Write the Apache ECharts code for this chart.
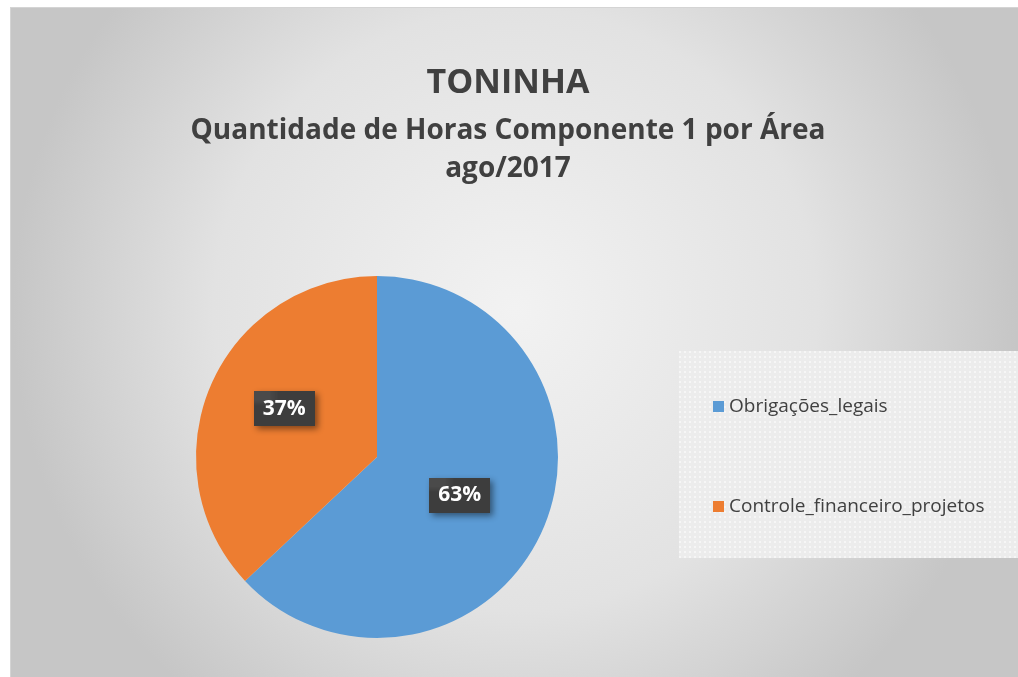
<!DOCTYPE html>
<html>
<head>
<meta charset="utf-8">
<script src="https://cdn.jsdelivr.net/npm/echarts@6/dist/echarts.min.js"></script>
<style>
  html, body { margin: 0; padding: 0; background: #fff; }
  #chart {
    position: absolute; left: 10px; top: 7px; width: 1008px; height: 670px;
    border-top: 1px solid #d4d4d4; border-left: 1px solid #d4d4d4;
  }
</style>
</head>
<body>
<div id="chart"></div>
<script>
const areas = ['Obrigações_legais', 'Controle_financeiro_projetos']
const horas = [63, 37]
const colors = ['#5B9BD5', '#ED7D31']
const titulo = 'TONINHA'
const subtitulo = ['Quantidade de Horas Componente 1 por Área', 'ago/2017']

// small dotted pattern for the legend box / labels
const makePattern = (bg, dot, size) => {
    const c = document.createElement('canvas')
    c.width = size
    c.height = size
    const g = c.getContext('2d')
    g.fillStyle = bg
    g.fillRect(0, 0, size, size)
    g.fillStyle = dot
    g.fillRect(0, 0, 2, 2)
    return c
}

const titleFont = { fontFamily: 'Open Sans', fontWeight: 'bold', fill: '#404040', textAlign: 'center', textVerticalAlign: 'middle' }

const chart = echarts.init(document.getElementById('chart'))
chart.setOption({
    backgroundColor: {
        type: 'radial', x: 0.5, y: 0.45, r: 0.75,
        colorStops: [
            { offset: 0, color: '#f2f2f2' },
            { offset: 0.6, color: '#e2e2e2' },
            { offset: 1, color: '#c6c6c6' }
        ]
    },
    graphic: [
        {
            type: 'text', x: 497, y: 75,
            style: Object.assign({ text: titulo, fontSize: 34 }, titleFont)
        },
        {
            type: 'text', x: 497, y: 123,
            style: Object.assign({ text: subtitulo[0], fontSize: 28 }, titleFont)
        },
        {
            type: 'text', x: 497, y: 161,
            style: Object.assign({ text: subtitulo[1], fontSize: 28 }, titleFont)
        },
        {
            type: 'rect',
            left: 668, top: 343,
            shape: { width: 340, height: 207 },
            style: { fill: { image: makePattern('#ececec', '#f6f6f6', 5), repeat: 'repeat' } },
            z: 0
        }
    ],
    legend: {
        orient: 'vertical',
        left: 697, top: 384,
        itemGap: 81,
        itemWidth: 11, itemHeight: 11,
        icon: 'rect',
        textStyle: { fontFamily: 'Open Sans', fontSize: 19, color: '#404040' },
        data: areas
    },
    series: [
        {
            type: 'pie',
            center: [366, 449],
            radius: 181,
            startAngle: 90,
            clockwise: true,
            color: colors,
            label: {
                show: true,
                position: 'inside',
                formatter: '{d}%',
                fontFamily: 'Open Sans',
                fontWeight: 'bold',
                fontSize: 21,
                color: '#ffffff',
                backgroundColor: { image: makePattern('#3d3d3d', '#4a4a4a', 6), repeat: 'repeat' },
                padding: [8, 9, 6, 9],
                shadowColor: 'rgba(0,0,0,0.45)',
                shadowBlur: 6,
                shadowOffsetX: 3,
                shadowOffsetY: 3
            },
            labelLayout: params => (params.dataIndex === 1 ? { dx: -7, dy: -11 } : { dx: -3, dy: 1 }),
            labelLine: { show: false },
            emphasis: { disabled: true },
            data: areas.map((a, i) => ({ name: a, value: horas[i] }))
        }
    ]
})
</script>
</body>
</html>
